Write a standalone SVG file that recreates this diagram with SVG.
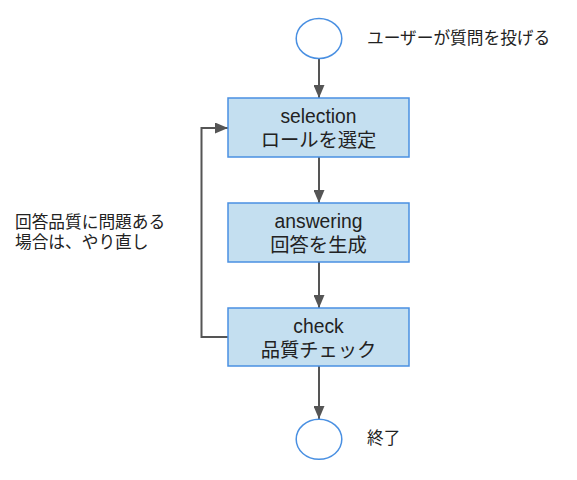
<svg xmlns="http://www.w3.org/2000/svg" width="577" height="480" viewBox="0 0 577 480">
<defs>
<style>
.box{fill:#c4dff0;stroke:#4a90e2;stroke-width:1.5}
.term{fill:#ffffff;stroke:#4a90e2;stroke-width:1.5}
.edge{fill:none;stroke:#555555;stroke-width:2}
.t{font-family:"Liberation Sans","Noto Sans CJK JP",sans-serif;fill:#222222}
.bt{font-size:19.3px;text-anchor:middle}
.lt{font-size:16.7px}
</style>
<marker id="ah" markerWidth="13" markerHeight="11" viewBox="0 0 13 11" refX="13" refY="5.5" orient="auto" markerUnits="userSpaceOnUse">
<path d="M0,0 L13,5.5 L0,11 Z" fill="#555555"/>
</marker>
</defs>
<rect width="577" height="480" fill="#ffffff"/>
<g id="connectors">
<line class="edge" x1="319" y1="58" x2="319" y2="98" marker-end="url(#ah)"/>
<line class="edge" x1="319" y1="157" x2="319" y2="203" marker-end="url(#ah)"/>
<line class="edge" x1="319" y1="262" x2="319" y2="308" marker-end="url(#ah)"/>
<line class="edge" x1="319" y1="366" x2="319" y2="419" marker-end="url(#ah)"/>
<polyline class="edge" points="228,337 201.5,337 201.5,128 228,128" marker-end="url(#ah)"/>
</g>
<g id="start">
<ellipse class="term" cx="319" cy="38.5" rx="22.8" ry="20"/>
<text class="t lt" x="367" y="44">ユーザーが質問を投げる</text>
</g>
<g id="selection">
<rect class="box" x="228" y="98" width="181" height="59"/>
<text class="t bt" x="318.5" y="123">selection</text>
<text class="t bt" x="318.5" y="146.5">ロールを選定</text>
</g>
<g id="answering">
<rect class="box" x="228" y="203" width="181" height="59"/>
<text class="t bt" x="318.5" y="228">answering</text>
<text class="t bt" x="318.5" y="251.5">回答を生成</text>
</g>
<g id="check">
<rect class="box" x="228" y="308" width="181" height="58"/>
<text class="t bt" x="318.5" y="333">check</text>
<text class="t bt" x="318.5" y="356.5">品質チェック</text>
</g>
<g id="end">
<ellipse class="term" cx="319" cy="439.3" rx="22.8" ry="20"/>
<text class="t lt" x="367" y="444">終了</text>
</g>
<g id="retry-label">
<text class="t lt" x="15" y="227.5">回答品質に問題ある</text>
<text class="t lt" x="15" y="247.5">場合は、やり直し</text>
</g>
</svg>
